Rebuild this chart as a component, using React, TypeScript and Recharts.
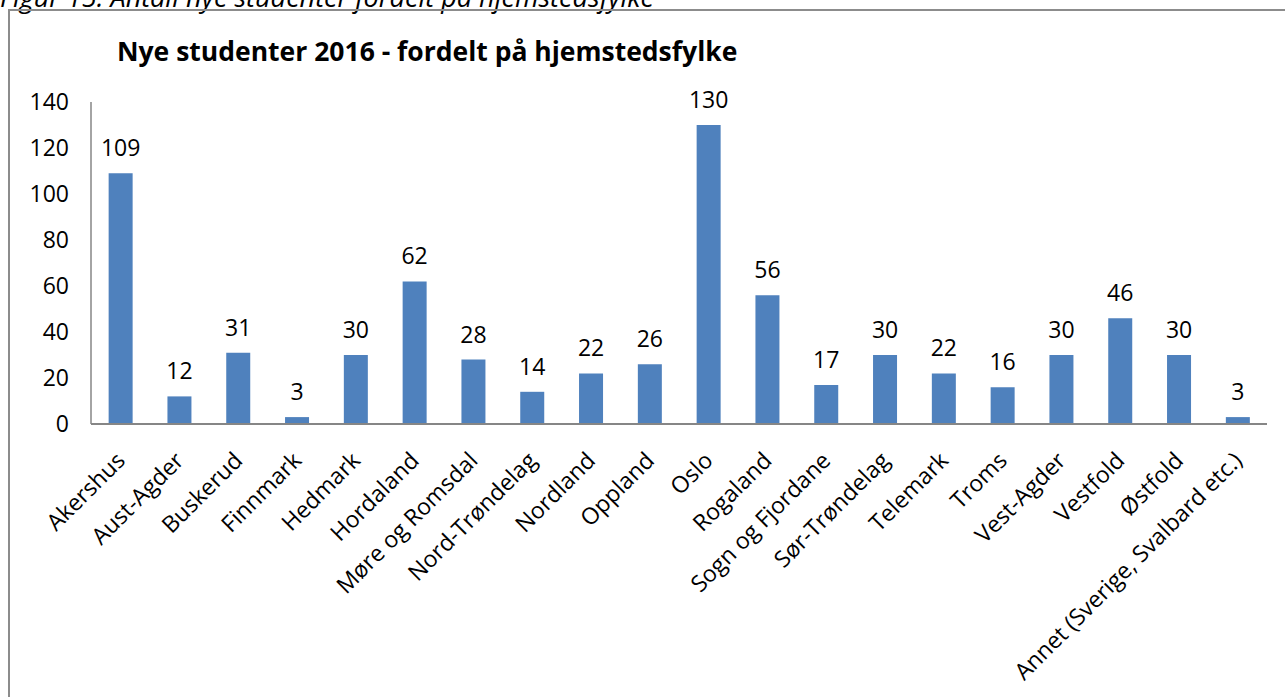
import { Bar, BarChart, LabelList, XAxis, YAxis } from "recharts";

const fylker = [
  "Akershus",
  "Aust-Agder",
  "Buskerud",
  "Finnmark",
  "Hedmark",
  "Hordaland",
  "Møre og Romsdal",
  "Nord-Trøndelag",
  "Nordland",
  "Oppland",
  "Oslo",
  "Rogaland",
  "Sogn og Fjordane",
  "Sør-Trøndelag",
  "Telemark",
  "Troms",
  "Vest-Agder",
  "Vestfold",
  "Østfold",
  "Annet (Sverige, Svalbard etc.)",
];
const studenter = [109, 12, 31, 3, 30, 62, 28, 14, 22, 26, 130, 56, 17, 30, 22, 16, 30, 46, 30, 3];
const yTicks = [0, 20, 40, 60, 80, 100, 120, 140];

const data = fylker.map((navn, i) => ({ navn, antall: studenter[i] }));

const font = "'Open Sans', sans-serif";

function RotatedTick({ x, y, payload }: any) {
  const ax = x + 6;
  const ay = y + 30;
  return (
    <text
      x={ax}
      y={ay}
      transform={`rotate(-45, ${ax}, ${ay})`}
      textAnchor="end"
      fontSize={23}
      fontFamily={font}
      fill="#000"
    >
      {payload.value}
    </text>
  );
}

export default function App() {
  return (
    <div
      style={{
        position: "fixed",
        left: 0,
        top: 0,
        width: 1285,
        height: 697,
        overflow: "hidden",
        background: "#fff",
        fontFamily: font,
      }}
    >
      <div
        style={{
          position: "absolute",
          left: 0,
          top: -22,
          fontSize: 27,
          fontStyle: "italic",
          whiteSpace: "nowrap",
        }}
      >
        Figur 15: Antall nye studenter fordelt på hjemstedsfylke
      </div>
      <div
        style={{
          position: "absolute",
          left: 8,
          top: 9,
          width: 1400,
          height: 800,
          borderLeft: "2px solid #8c8c8c",
          borderTop: "2px solid #8c8c8c",
        }}
      />
      <div
        style={{
          position: "absolute",
          left: 117,
          top: 33,
          fontSize: 26.5,
          fontWeight: 700,
          whiteSpace: "nowrap",
        }}
      >
        Nye studenter 2016 - fordelt på hjemstedsfylke
      </div>
      <div style={{ position: "absolute", left: 0, top: 0 }}>
        <BarChart
          width={1285}
          height={697}
          data={data}
          margin={{ top: 102, right: 18, left: 21, bottom: 0 }}
          barCategoryGap="30%"
        >
          <XAxis
            dataKey="navn"
            interval={0}
            tickLine={false}
            axisLine={{ stroke: "#868686", strokeWidth: 2 }}
            height={273}
            tick={<RotatedTick />}
          />
          <YAxis
            domain={[0, 140]}
            ticks={yTicks}
            width={70}
            tickLine={false}
            axisLine={{ stroke: "#868686", strokeWidth: 1.5 }}
            tickMargin={16}
            tick={{ fill: "#000", fontSize: 23, fontFamily: font }}
          />
          <Bar dataKey="antall" fill="#4F81BD" isAnimationActive={false}>
            <LabelList
              dataKey="antall"
              position="top"
              offset={17}
              fill="#000"
              fontSize={23}
              fontFamily={font}
            />
          </Bar>
        </BarChart>
      </div>
    </div>
  );
}
